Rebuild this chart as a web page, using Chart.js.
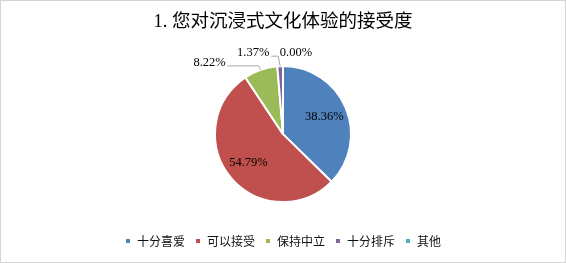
<!DOCTYPE html>
<html>
<head>
<meta charset="utf-8">
<script src="https://cdn.jsdelivr.net/npm/chart.js@4"></script>
<style>
  body { margin: 0; background: #fff; }
  #wrap { width: 566px; height: 263px; box-sizing: border-box; border: 1px solid #d4d4d4; }
</style>
</head>
<body>
<div id="wrap"><canvas id="chart" width="564" height="261"></canvas></div>
<script>
const categories = ["十分喜爱", "可以接受", "保持中立", "十分排斥", "其他"];
const values = [38.36, 54.79, 8.22, 1.37, 0.00];
const colors = ["#4F81BD", "#C0504D", "#9BBB59", "#8064A2", "#4BACC6"];

// label placement: inside slice, or outside with offset from slice edge
const labelPlace = [
    { inside: true },
    { inside: true },
    { dx: -51, dy: -7, line: true },
    { dx: -27, dy: -13, line: true },
    { dx: 13, dy: -13, line: false }
];

const pieLabels = {
    id: "pieLabels",
    afterDatasetsDraw(chart) {
        const ctx = chart.ctx;
        const meta = chart.getDatasetMeta(0);
        ctx.save();
        ctx.font = "12.5px 'Liberation Serif', serif";
        ctx.fillStyle = "#000";
        ctx.textBaseline = "middle";
        meta.data.forEach((arc, i) => {
            const p = arc.getProps(["x", "y", "startAngle", "endAngle", "outerRadius"], true);
            const mid = (p.startAngle + p.endAngle) / 2;
            const text = values[i].toFixed(2) + "%";
            const place = labelPlace[i];
            if (place.inside) {
                const r = p.outerRadius * 0.66;
                ctx.textAlign = "center";
                ctx.fillText(text, p.x + Math.cos(mid) * r, p.y + Math.sin(mid) * r);
                return;
            }
            const ex = p.x + Math.cos(mid) * p.outerRadius;
            const ey = p.y + Math.sin(mid) * p.outerRadius;
            const tx = ex + place.dx;
            const ty = ey + place.dy;
            ctx.textAlign = "center";
            ctx.fillText(text, tx, ty);
            if (place.line) {
                const w = ctx.measureText(text).width;
                ctx.strokeStyle = "#a6a6a6";
                ctx.lineWidth = 1;
                ctx.beginPath();
                ctx.moveTo(ex, ey);
                ctx.lineTo(ex - 2, ty + 3);
                ctx.lineTo(tx + w / 2 + 2, ty + 3);
                ctx.stroke();
            }
        });
        ctx.restore();
    }
};

new Chart(document.getElementById("chart"), {
    type: "pie",
    data: {
        labels: categories,
        datasets: [{
            data: values,
            backgroundColor: colors,
            borderColor: "#fff",
            borderWidth: 2
        }]
    },
    options: {
        responsive: false,
        animation: false,
        radius: 68,
        layout: { padding: { bottom: 5 } },
        plugins: {
            title: {
                display: true,
                text: "1. 您对沉浸式文化体验的接受度",
                color: "#000",
                font: { size: 18.5, weight: "normal", family: "'Liberation Serif', 'Noto Sans CJK SC'" },
                padding: { top: 10, bottom: 10 }
            },
            legend: {
                position: "bottom",
                labels: {
                    boxWidth: 6,
                    boxHeight: 6,
                    padding: 10,
                    color: "#111",
                    font: { size: 12, family: "'Noto Sans CJK SC'" }
                }
            },
            tooltip: { enabled: false }
        }
    },
    plugins: [pieLabels]
});
</script>
</body>
</html>
